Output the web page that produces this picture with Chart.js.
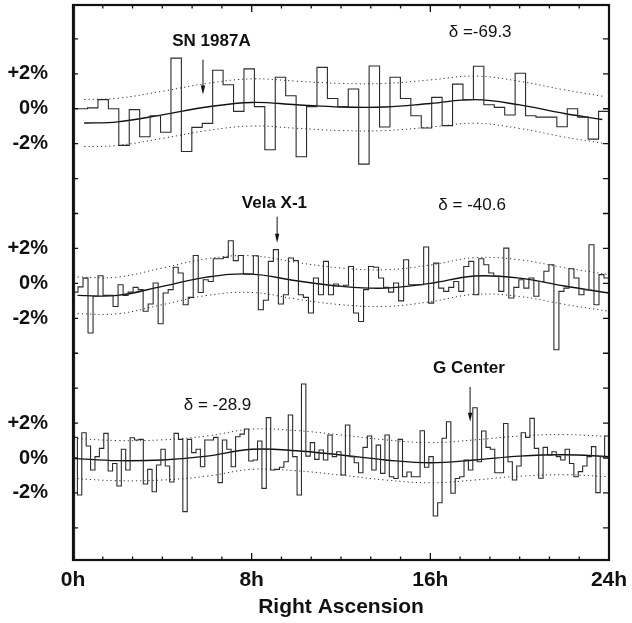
<!DOCTYPE html>
<html><head><meta charset="utf-8">
<script src="https://cdn.jsdelivr.net/npm/chart.js@4.4.0/dist/chart.umd.min.js"></script>
<style>html,body{margin:0;padding:0;background:#fff;}</style>
</head><body>
<canvas id="c" width="632" height="623" style="display:block;width:632px;height:623px"></canvas>
<script>
// ---- axis / tick data ----
const xTickHours = [0, 8, 16, 24];
const xTickLabels = ['0h', '8h', '16h', '24h'];
const raDivisions = 18;               // minor tick divisions of 24h
const panelOffsets = [20, 10, 0];     // vertical offset (in %) of each panel's zero
const panelTickOffsets = [2, 0, -2];
const panelTickLabels = ['+2%', '0%', '-2%'];
const yTickValues = [-4, -2, 0, 2, 4, 6, 8, 10, 12, 14, 16, 18, 20, 22, 24];

// ---- histogram bin widths (hours) ----
const binHours1 = 0.467;
const binHours2 = 24 / 107;
const binHours3 = 24 / 122;

// ---- panel 1 (delta = -69.3) relative rate, % ----
const rate1 = [0.0, 0.05, 0.52, 0.0, -2.1, -0.05, -1.6, -0.4, -1.35, 2.9,
  -2.45, -1.07, -0.84, 2.2, 1.37, -0.15, 2.28, 0.12, -2.35, 1.8,
  0.74, -2.75, 0.12, 2.37, 0.59, 0.12, 1.13, -3.17, 2.45, -1.05,
  1.8, 0.59, -0.4, -1.1, 0.65, -0.97, 1.41, 0.52, 2.43, 0.23,
  0.08, -0.36, 2.03, -0.4, -0.48, -0.48, -1.03, 0.0, -0.48, -1.74, -0.15];

// ---- panel 2 (delta = -40.6) ----
const rate2 = [-0.5, -0.2, 0.3, -2.84, -0.74, 0.44, -0.69, -0.69, -1.32, -0.08,
  -0.69, -0.5, -0.23, -0.36, -1.6, -1.18, 0.02, -2.31, -0.55, -0.36,
  0.92, 0.59, -1.22, -0.8, 1.6, -0.52, 0.21, 0.11, 1.41, 1.41,
  1.49, 2.44, 1.3, 1.6, 0.53, 0.53, 1.58, -1.51, -0.97, 1.26,
  1.93, -1.18, -0.65, 1.45, 1.3, -0.65, -0.8, -1.7, 0.31, -0.65,
  1.26, -0.65, -0.04, -0.17, -0.11, 0.97, -1.7, -2.18, -0.36, 0.97,
  0.92, 0.31, -0.23, -0.5, 0.02, -1.0, 1.35, -0.08, -0.08, -0.08,
  2.08, -1.13, 1.16, -0.27, -0.46, -0.23, 0.11, -0.46, 0.97, 1.26,
  -0.65, 1.41, 1.07, 0.59, 0.4, -0.46, 2.02, -0.84, -0.23, 0.21,
  -0.27, 0.31, -0.74, 0.11, 0.69, 1.07, -3.8, -0.46, -0.27, 0.84,
  0.31, -0.65, -0.36, 2.21, -1.22, 0.5, 0.31];

// ---- panel 3 (delta = -28.9) ----
const rate3 = [1.18, -2.12, 1.45, 0.69, -0.69, 0.08, 0.55, 1.41, -0.74, -0.31,
  -1.6, 0.5, -0.69, 1.16, 1.03, 1.07, -1.49, -0.65, -1.93, -0.4,
  0.5, -0.46, -1.37, 1.41, 1.07, -3.07, 1.07, 0.31, 0.5, -0.5,
  1.03, 1.03, 1.18,
  -1.41, 1.03, 0.5, -0.5, 1.22, 1.37, 1.66, -0.17, -0.11, 0.97,
  -1.74, 2.31, -0.69, -0.65, -0.53, -0.21, 2.46, 0.08, -2.12, 4.24,
  0.11, 0.88, -0.08, 0.46, -0.11, 1.32, 0.08, 0.36, -0.97, 1.89,
  0.08, -0.27, -0.84, 0.61, 1.26, -0.69, 0.74, -0.88, 1.32, -1.07,
  -1.17, 1.07, -1.07, -0.8, -1.07, -1.07,
  1.56, -0.53, 0.08, -3.32, -2.56, 1.13, 2.08, -2.02, -1.17, -1.07,
  -0.11, -0.69, 2.88, -0.21, 1.55, 0.61, 0.5, -0.84, -0.84, 1.98,
  -0.21, -1.26, -0.46, 1.45, 1.18, 2.27, 0.55, -1.16, 0.61, 0.17,
  0.36, 0.08, -0.11, 0.5, -0.31, -1.07, -0.78, -0.46, 0.08, 0.65,
  -1.98, 0.08, 1.26];

// ---- fitted curves and ±1 sigma bands ----
const curveHours1 = [0.5, 2, 4, 6, 8, 10, 12, 14, 16, 18, 20, 22, 23.7];
const fit1   = [-0.82, -0.75, -0.35, 0.1, 0.36, 0.23, 0.1, 0.1, 0.3, 0.52, 0.22, -0.27, -0.62];
const upper1 = [0.53, 0.6, 1.0, 1.45, 1.71, 1.58, 1.45, 1.45, 1.65, 1.87, 1.57, 1.08, 0.72];
const lower1 = [-2.17, -2.1, -1.7, -1.25, -0.99, -1.12, -1.25, -1.25, -1.05, -0.83, -1.13, -1.62, -1.97];

const curveHours2 = [0.2, 2, 4, 6, 8, 10, 12, 14, 16, 18, 20, 22, 24];
const fit2   = [-0.69, -0.69, -0.17, 0.36, 0.53, 0.15, -0.17, -0.27, 0.0, 0.42, 0.3, -0.15, -0.55];
const upper2 = [0.36, 0.36, 0.88, 1.41, 1.58, 1.2, 0.88, 0.78, 1.05, 1.47, 1.35, 0.9, 0.5];
const lower2 = [-1.74, -1.74, -1.22, -0.69, -0.52, -0.9, -1.22, -1.32, -1.05, -0.63, -0.75, -1.2, -1.6];

const curveHours3 = [0, 2, 4, 6, 8, 10, 12, 14, 16, 18, 20, 22, 24];
const fit3   = [-0.02, -0.15, -0.11, 0.11, 0.5, 0.42, 0.17, -0.11, -0.27, -0.11, 0.11, 0.19, 0.08];
const upper3 = [1.13, 1.0, 1.04, 1.26, 1.65, 1.57, 1.32, 1.04, 0.88, 1.04, 1.26, 1.34, 1.23];
const lower3 = [-1.17, -1.3, -1.26, -1.04, -0.65, -0.73, -0.98, -1.26, -1.42, -1.26, -1.04, -0.96, -1.07];

// ---- annotations (RA hours, axis value) ----
const noteTexts = ['SN 1987A', 'δ =-69.3', 'Vela X-1', 'δ = -40.6', 'G Center', 'δ = -28.9'];
const noteRA    = [6.2, 18.23, 9.02, 17.87, 17.73, 6.47];
const noteY     = [23.84, 24.36, 14.56, 14.45, 5.11, 3.04];
const noteBold  = [true, false, true, false, true, false];
const arrowRA   = [5.82, 9.14, 17.78];
const arrowFrom = [22.81, 13.82, 4.07];
const arrowTo   = [20.81, 12.33, 2.07];

// ---- build data ----
function stepData(values, w, offset) {
  const n = values.length;
  const pts = values.map((v, i) => ({ x: Math.max(0, 24 - (n - i) * w), y: v + offset }));
  pts.push({ x: 24, y: values[n - 1] + offset });
  return pts;
}
function lineData(hours, values, offset) {
  return hours.map((h, i) => ({ x: h, y: values[i] + offset }));
}
const panels = [
  { rate: rate1, w: binHours1, h: curveHours1, fit: fit1, up: upper1, lo: lower1 },
  { rate: rate2, w: binHours2, h: curveHours2, fit: fit2, up: upper2, lo: lower2 },
  { rate: rate3, w: binHours3, h: curveHours3, fit: fit3, up: upper3, lo: lower3 }
];
const datasets = [];
panels.forEach((p, k) => {
  const off = panelOffsets[k];
  datasets.push({ data: stepData(p.rate, p.w, off), stepped: true, borderColor: '#2b2b2b', borderWidth: 1.1, pointRadius: 0 });
  datasets.push({ data: lineData(p.h, p.fit, off), tension: 0.4, borderColor: '#111', borderWidth: 1.4, pointRadius: 0 });
  datasets.push({ data: lineData(p.h, p.up, off), tension: 0.4, borderColor: '#333', borderWidth: 1, borderDash: [1.2, 3], pointRadius: 0 });
  datasets.push({ data: lineData(p.h, p.lo, off), tension: 0.4, borderColor: '#333', borderWidth: 1, borderDash: [1.2, 3], pointRadius: 0 });
});

function yLabel(v) {
  for (let p = 0; p < panelOffsets.length; p++)
    for (let t = 0; t < panelTickOffsets.length; t++)
      if (Math.abs(v - (panelOffsets[p] + panelTickOffsets[t])) < 1e-6) return panelTickLabels[t];
  return '';
}
const FONT = '"Liberation Sans", Arial, Helvetica, sans-serif';

const framePlugin = {
  id: 'frame',
  afterDatasetsDraw(chart) {
    const { ctx, chartArea: a, scales: { x, y } } = chart;
    ctx.save();
    ctx.strokeStyle = '#111';
    ctx.fillStyle = '#111';
    ctx.lineWidth = 1.3;
    ctx.beginPath();
    yTickValues.forEach(v => {
      const py = y.getPixelForValue(v);
      ctx.moveTo(a.left, py); ctx.lineTo(a.left + 5, py);
      ctx.moveTo(a.right, py); ctx.lineTo(a.right - 6, py);
    });
    for (let k = 1; k < raDivisions; k++) {
      const h = k * 24 / raDivisions;
      const px = x.getPixelForValue(h);
      const major = xTickHours.some(t => Math.abs(t - h) < 1e-6);
      const len = major ? 7 : 3.5;
      ctx.moveTo(px, a.bottom); ctx.lineTo(px, a.bottom - len);
      ctx.moveTo(px, a.top); ctx.lineTo(px, a.top + len);
    }
    ctx.stroke();
    ctx.lineWidth = 2.2;
    ctx.strokeRect(a.left, a.top, a.right - a.left, a.bottom - a.top);
    ctx.lineWidth = 1;
    ctx.beginPath(); ctx.moveTo(a.left + 1.6, a.top); ctx.lineTo(a.left + 1.6, a.bottom); ctx.stroke();

    // annotations
    ctx.textAlign = 'center';
    ctx.textBaseline = 'middle';
    noteTexts.forEach((t, i) => {
      ctx.font = (noteBold[i] ? 'bold 17px ' : '17px ') + FONT;
      ctx.fillText(t, x.getPixelForValue(noteRA[i]), y.getPixelForValue(noteY[i]));
    });
    ctx.lineWidth = 1;
    arrowRA.forEach((r, i) => {
      const px = x.getPixelForValue(r);
      const y1 = y.getPixelForValue(arrowFrom[i]);
      const y2 = y.getPixelForValue(arrowTo[i]);
      ctx.beginPath(); ctx.moveTo(px, y1); ctx.lineTo(px, y2 - 5); ctx.stroke();
      ctx.beginPath(); ctx.moveTo(px, y2); ctx.lineTo(px - 2.2, y2 - 9); ctx.lineTo(px + 2.2, y2 - 9); ctx.closePath(); ctx.fill();
    });
    ctx.restore();
  }
};

new Chart(document.getElementById('c'), {
  type: 'line',
  data: { datasets },
  plugins: [framePlugin],
  options: {
    responsive: false,
    animation: false,
    devicePixelRatio: 1,
    layout: { padding: { left: 0, right: 23, top: 5, bottom: 0 } },
    plugins: { legend: { display: false }, tooltip: { enabled: false } },
    elements: { line: { fill: false } },
    scales: {
      x: {
        type: 'linear', min: 0, max: 24,
        grid: { display: false, drawTicks: false },
        border: { display: false },
        ticks: {
          font: { family: FONT, size: 21, weight: 'bold' }, color: '#111', padding: 8,
          autoSkip: false, maxRotation: 0,
          callback: (v) => { const i = xTickHours.indexOf(v); return i >= 0 ? xTickLabels[i] : ''; }
        },
        afterBuildTicks: (s) => { s.ticks = xTickHours.map(v => ({ value: v })); },
        afterFit: (s) => { s.height = 63; s.paddingLeft = 0; s.paddingRight = 0; },
        title: { display: true, text: 'Right Ascension', color: '#111',
          font: { family: FONT, size: 21, weight: 'bold' }, padding: { top: 0, bottom: 3 } }
      },
      y: {
        type: 'linear', min: -5.84, max: 25.94,
        grid: { display: false, drawTicks: false },
        border: { display: false },
        ticks: {
          font: { family: FONT, size: 20, weight: 'bold' }, color: '#111', padding: 25,
          autoSkip: false, callback: (v) => yLabel(v)
        },
        afterBuildTicks: (s) => { s.ticks = yTickValues.map(v => ({ value: v })); },
        afterFit: (s) => { s.width = 73; s.paddingTop = 0; s.paddingBottom = 0; }
      }
    }
  }
});
</script>
</body></html>
